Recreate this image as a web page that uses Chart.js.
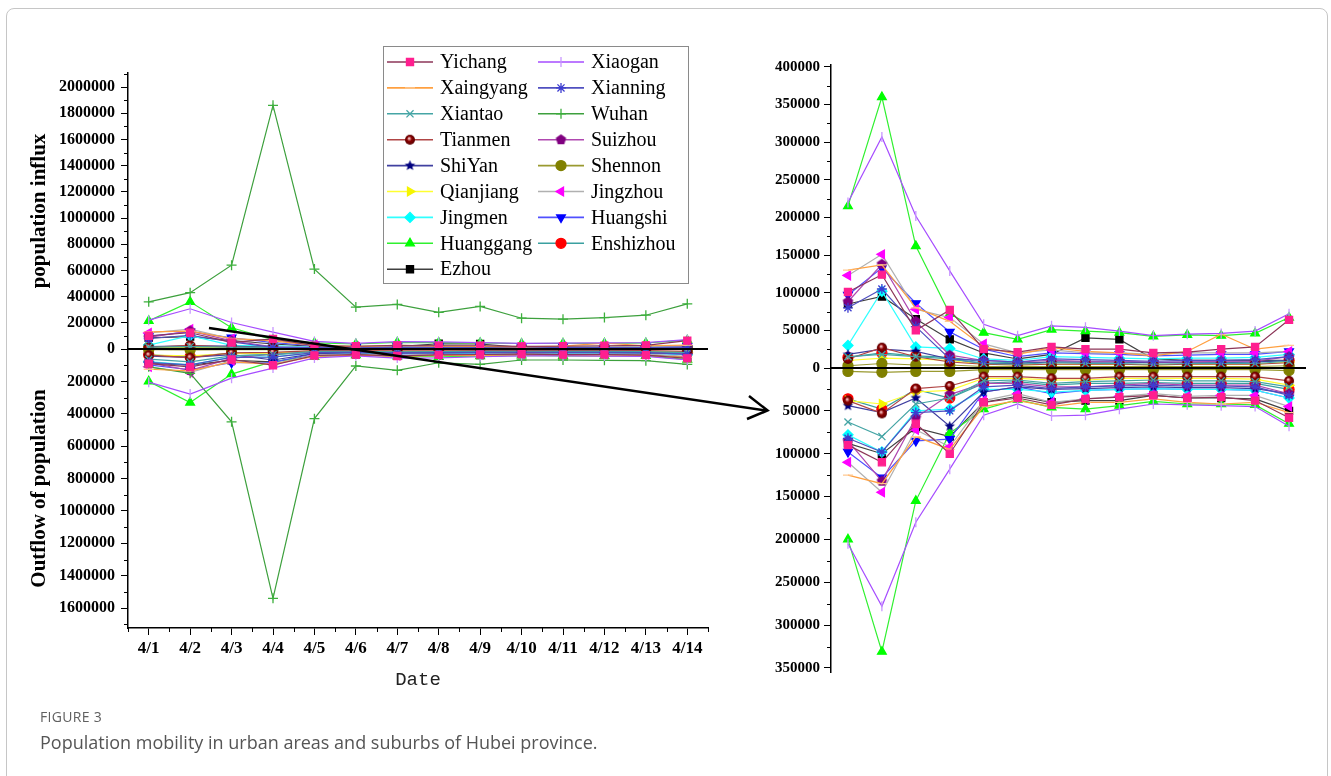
<!DOCTYPE html>
<html>
<head>
<meta charset="utf-8">
<title>Population mobility in Hubei</title>
<script src="https://cdn.jsdelivr.net/npm/chart.js@4.4.1/dist/chart.umd.min.js"></script>
<style>
  html, body { margin: 0; padding: 0; background: #fff; }
  body { width: 1331px; height: 776px; position: relative; overflow: hidden; }
  .frame { position: absolute; left: 6px; top: 8px; width: 1320px; height: 800px;
           border: 1px solid #c6c6c6; border-radius: 8px; }
  #flowAll { position: absolute; left: 0; top: 0; }
  #flowZoom { position: absolute; left: 730px; top: 0; }
  #arrow { position: absolute; left: 0; top: 0; pointer-events: none; }
  .cap-label { position: absolute; left: 40px; top: 707px; font: 14px "Open Sans", sans-serif;
               color: #606060; letter-spacing: 0.3px; }
  .cap-text { position: absolute; left: 40px; top: 730px; font: 18px "Open Sans", sans-serif; color: #555; }
</style>
</head>
<body>
<div class="frame"></div>
<canvas id="flowAll" width="730" height="700"></canvas>
<canvas id="flowZoom" width="600" height="700"></canvas>
<svg id="arrow" width="1331" height="776">
  <line x1="209" y1="328" x2="766" y2="410.5" stroke="#000" stroke-width="2.5"/>
  <polyline points="749,396 767.5,410.5 747,419" fill="none" stroke="#000" stroke-width="2.5"/>
</svg>
<div class="cap-label">FIGURE 3</div>
<div class="cap-text">Population mobility in urban areas and suburbs of Hubei province.</div>

<script>
const dates = ["4/1", "4/2", "4/3", "4/4", "4/5", "4/6", "4/7", "4/8", "4/9", "4/10", "4/11", "4/12", "4/13", "4/14"];

const cityNames = ["Yichang", "Xiaogan", "Xaingyang", "Xianning", "Xiantao", "Wuhan", "Tianmen", "Suizhou",
  "ShiYan", "Shennon", "Qianjiang", "Jingzhou", "Jingmen", "Huangshi", "Huanggang", "Enshizhou", "Ezhou"];

// people coming in / going out, per day (outflow kept positive, drawn downward)
const yichangIn = [101000, 124000, 50000, 77000, 25000, 21000, 28000, 25000, 25000, 20000, 21000, 25000, 28000, 64000];
const yichangOut = [90000, 110000, 65000, 100000, 40000, 35000, 43000, 36000, 34000, 32000, 35000, 34000, 38000, 58000];
const xiaoganIn = [220000, 307000, 202000, 129000, 58000, 43000, 56000, 54000, 49000, 43000, 45000, 46000, 49000, 72000];
const xiaoganOut = [205000, 278000, 180000, 118000, 55000, 42000, 56000, 55000, 48000, 42000, 43000, 44000, 45000, 68000];
const xaingyangIn = [130000, 137000, 80000, 62000, 28000, 18000, 27000, 22000, 20000, 16000, 22000, 45000, 25000, 30000];
const xaingyangOut = [125000, 135000, 80000, 95000, 45000, 38000, 45000, 40000, 40000, 36000, 40000, 42000, 40000, 52000];
const xianningIn = [80000, 105000, 55000, 12000, 10000, 8000, 12000, 11000, 10000, 9000, 10000, 10000, 11000, 15000];
const xianningOut = [82000, 98000, 52000, 50000, 22000, 20000, 24000, 22000, 21000, 20000, 21000, 21000, 22000, 32000];
const xiantaoIn = [15000, 18000, 15000, 12000, 6000, 5000, 7000, 6000, 6000, 5000, 6000, 6000, 6000, 9000];
const xiantaoOut = [63000, 80000, 42000, 35000, 15000, 14000, 18000, 16000, 15000, 14000, 15000, 15000, 16000, 22000];
const wuhanIn = [360000, 430000, 640000, 1860000, 610000, 320000, 340000, 280000, 325000, 235000, 228000, 240000, 258000, 345000];
const wuhanOut = [110000, 150000, 450000, 1540000, 430000, 105000, 132000, 85000, 95000, 68000, 68000, 70000, 72000, 95000];
const tianmenIn = [12000, 27000, 15000, 8000, 5000, 4000, 5000, 5000, 5000, 4000, 5000, 5000, 5000, 7000];
const tianmenOut = [38000, 53000, 24000, 21000, 10000, 10000, 12000, 12000, 10000, 10000, 10000, 10000, 10000, 15000];
const suizhouIn = [88000, 138000, 62000, 17000, 10000, 8000, 10000, 9000, 9000, 8000, 8000, 9000, 9000, 15000];
const suizhouOut = [85000, 132000, 58000, 31000, 18000, 18000, 22000, 22000, 20000, 18000, 20000, 20000, 20000, 30000];
const shiyanIn = [18000, 25000, 22000, 12000, 6000, 6000, 8000, 8000, 8000, 7000, 8000, 8000, 8000, 10000];
const shiyanOut = [44000, 52000, 35000, 68000, 28000, 22000, 25000, 24000, 23000, 22000, 23000, 23000, 24000, 30000];
const shennonIn = [3000, 6000, 4000, 4000, 2000, 2000, 2000, 2000, 2000, 2000, 2000, 2000, 2000, 3000];
const shennonOut = [4000, 5000, 4000, 4000, 2000, 2000, 2000, 2000, 2000, 2000, 2000, 2000, 2000, 3000];
const qianjiangIn = [10000, 13000, 12000, 10000, 5000, 4000, 5000, 5000, 5000, 4000, 5000, 5000, 5000, 8000];
const qianjiangOut = [38000, 42000, 28000, 26000, 12000, 12000, 14000, 14000, 12000, 12000, 12000, 12000, 13000, 20000];
const jingzhouIn = [123000, 151000, 78000, 67000, 32000, 20000, 24000, 20000, 20000, 18000, 20000, 20000, 20000, 22000];
const jingzhouOut = [110000, 145000, 72000, 92000, 38000, 30000, 40000, 36000, 33000, 30000, 33000, 32000, 32000, 45000];
const jingmenIn = [30000, 102000, 28000, 26000, 12000, 10000, 15000, 14000, 13000, 12000, 13000, 13000, 14000, 18000];
const jingmenOut = [78000, 98000, 50000, 48000, 25000, 25000, 28000, 26000, 25000, 24000, 25000, 25000, 26000, 35000];
const huangshiIn = [97000, 133000, 86000, 48000, 25000, 15000, 20000, 19000, 18000, 16000, 17000, 18000, 18000, 22000];
const huangshiOut = [98000, 128000, 85000, 83000, 28000, 22000, 30000, 26000, 25000, 24000, 25000, 25000, 26000, 35000];
const huanggangIn = [215000, 360000, 162000, 72000, 47000, 38000, 51000, 49000, 47000, 42000, 44000, 43000, 46000, 67000];
const huanggangOut = [200000, 331000, 155000, 76000, 48000, 37000, 46000, 48000, 44000, 39000, 42000, 42000, 43000, 65000];
const enshizhouIn = [14000, 20000, 16000, 14000, 8000, 7000, 8000, 8000, 8000, 7000, 7000, 7000, 8000, 10000];
const enshizhouOut = [36000, 48000, 25000, 35000, 18000, 16000, 20000, 18000, 18000, 17000, 18000, 18000, 18000, 25000];
const ezhouIn = [85000, 95000, 65000, 38000, 20000, 12000, 18000, 40000, 38000, 12000, 10000, 10000, 10000, 10000];
const ezhouOut = [88000, 100000, 70000, 80000, 40000, 33000, 40000, 38000, 38000, 32000, 35000, 35000, 36000, 50000];

const inflows = [yichangIn, xiaoganIn, xaingyangIn, xianningIn, xiantaoIn, wuhanIn, tianmenIn, suizhouIn,
  shiyanIn, shennonIn, qianjiangIn, jingzhouIn, jingmenIn, huangshiIn, huanggangIn, enshizhouIn, ezhouIn];
const outflows = [yichangOut, xiaoganOut, xaingyangOut, xianningOut, xiantaoOut, wuhanOut, tianmenOut, suizhouOut,
  shiyanOut, shennonOut, qianjiangOut, jingzhouOut, jingmenOut, huangshiOut, huanggangOut, enshizhouOut, ezhouOut];

// labelled ticks on the two panels
const allInTicks = [0, 200000, 400000, 600000, 800000, 1000000, 1200000, 1400000, 1600000, 1800000, 2000000];
const allOutTicks = [0, 200000, 400000, 600000, 800000, 1000000, 1200000, 1400000, 1600000];
const zoomInTicks = [0, 50000, 100000, 150000, 200000, 250000, 300000, 350000, 400000];
const zoomOutTicks = [0, 50000, 100000, 150000, 200000, 250000, 300000, 350000];

const serif = '"Liberation Serif", "Times New Roman", serif';
const R = 5;

// a few Origin-style markers Chart.js doesn't have
function polyMarker(kind, color, r) {
  const c = document.createElement("canvas");
  const s = Math.ceil(r * 2 + 2);
  c.width = s; c.height = s;
  const g = c.getContext("2d");
  g.fillStyle = color;
  g.beginPath();
  const n = kind === "pentagon" ? 5 : 10;
  for (let i = 0; i < n; i++) {
    const a = -Math.PI / 2 + i * 2 * Math.PI / n;
    const rr = kind === "star" && i % 2 ? r * 0.45 : r;
    g.lineTo(s / 2 + rr * Math.cos(a), s / 2 + rr * Math.sin(a));
  }
  g.closePath();
  g.fill();
  return c;
}

function sphereMarker(color, r) {
  const c = document.createElement("canvas");
  const s = Math.ceil(r * 2 + 2);
  c.width = s; c.height = s;
  const g = c.getContext("2d");
  const grad = g.createRadialGradient(s / 2 - 1, s / 2 - 1.5, 0.3, s / 2, s / 2, r);
  grad.addColorStop(0, "#ffd0d0");
  grad.addColorStop(0.45, color);
  grad.addColorStop(1, "#5a0000");
  g.fillStyle = grad;
  g.beginPath();
  g.arc(s / 2, s / 2, r, 0, Math.PI * 2);
  g.fill();
  return c;
}

const looks = [
  { line: "#8c3658", mark: "#ff1f8f", style: "rect" },
  { line: "#a64dff", mark: "#c896ff", style: "line", rot: 90 },
  { line: "#ffa040", mark: "#ffc890", style: "line" },
  { line: "#5050c0", mark: "#3c3cd0", style: "star" },
  { line: "#45a5a5", mark: "#45a5a5", style: "crossRot" },
  { line: "#3da03d", mark: "#3db03d", style: "cross" },
  { line: "#b04545", mark: "#8b0000", style: sphereMarker("#8b0000", R) },
  { line: "#b048b0", mark: "#800080", style: polyMarker("pentagon", "#800080", R + 0.5) },
  { line: "#4040a0", mark: "#00007f", style: polyMarker("star", "#00007f", R + 0.5) },
  { line: "#9a9a30", mark: "#808000", style: "circle" },
  { line: "#ffff30", mark: "#f5f500", style: "triangle", rot: 90 },
  { line: "#b0b0b0", mark: "#ff00ff", style: "triangle", rot: -90 },
  { line: "#30ffff", mark: "#00ffff", style: "rectRot" },
  { line: "#5050ff", mark: "#0000ff", style: "triangle", rot: 180 },
  { line: "#30f030", mark: "#00ff00", style: "triangle" },
  { line: "#3aa0a0", mark: "#ff0000", style: "circle" },
  { line: "#404040", mark: "#000000", style: "rect" },
];

function flowSets(skip) {
  const sets = [];
  cityNames.forEach((name, i) => {
    if (name === skip) return;
    const lk = looks[i];
    [["yIn", inflows[i]], ["yOut", outflows[i]]].forEach(([axis, data]) => {
      sets.push({
        label: name,
        data: data,
        yAxisID: axis,
        borderColor: lk.line,
        borderWidth: 1.2,
        pointStyle: lk.style,
        pointRotation: lk.rot || 0,
        pointRadius: R,
        pointHoverRadius: R,
        pointBackgroundColor: lk.mark,
        pointBorderColor: lk.mark,
        pointBorderWidth: 1.3,
        tension: 0,
        fill: false,
      });
    });
  });
  return sets;
}

function flowScales(o) {
  const tickFont = { family: serif, weight: "bold", size: o.tickSize };
  const vAxis = (extra) => Object.assign({
    type: "linear",
    position: "left",
    stack: "flow",
    min: 0,
    grid: { drawOnChartArea: false, tickLength: 7, color: "#000", tickWidth: 1 },
    border: { color: "#000", width: 1.5 },
    afterFit: (s) => { s.width = o.axisWidth; },
  }, extra);
  const titleFont = { family: serif, weight: "bold", size: 21 };
  const x = {
    type: "category",
    labels: dates,
    offset: true,
    display: o.showX,
    grid: { drawOnChartArea: false, offset: false, tickLength: 7, color: "#000" },
    border: { color: "#000", width: 1.5 },
    ticks: { color: "#000", font: { family: serif, weight: "bold", size: 17 }, padding: 3, maxRotation: 0, autoSkip: false },
    title: { display: true, text: "Date", color: "#222", font: { family: '"Liberation Mono", monospace', size: 19 }, padding: { top: 0, bottom: 0 } },
  };
  // only the full panel has a visible date axis
  if (o.showX) x.afterFit = (s) => { s.height = 63; };
  return {
    x: x,
    yOut: vAxis({
      reverse: true,
      max: o.outMax,
      stackWeight: o.outWeight,
      afterBuildTicks: (s) => { s.ticks = o.outTicks.map((v) => ({ value: v })); },
      ticks: { autoSkip: false, color: "#000", font: tickFont, padding: o.pad,
               callback: (v) => (v === 0 ? "" : String(v)) },
      title: { display: o.titles, text: "Outflow of population", color: "#000", font: titleFont, padding: { top: 4, bottom: 0 } },
    }),
    yIn: vAxis({
      max: o.inMax,
      stackWeight: o.inWeight,
      afterBuildTicks: (s) => { s.ticks = o.inTicks.map((v) => ({ value: v })); },
      ticks: { autoSkip: false, color: "#000", font: tickFont, padding: o.pad,
               callback: (v) => String(v) },
      title: { display: o.titles, text: "population influx", color: "#000", font: titleFont, padding: { top: 4, bottom: 0 } },
    }),
  };
}

// short ticks between the labelled ones
const minorTicks = {
  id: "minorTicks",
  afterDraw(chart, args, opts) {
    const ctx = chart.ctx;
    ctx.save();
    ctx.strokeStyle = "#000";
    ctx.lineWidth = 1;
    ["yIn", "yOut"].forEach((id) => {
      const s = chart.scales[id];
      for (let v = opts.yStep / 2; v < s.max; v += opts.yStep) {
        const y = Math.round(s.getPixelForValue(v)) + 0.5;
        ctx.beginPath();
        ctx.moveTo(s.right - 4, y);
        ctx.lineTo(s.right, y);
        ctx.stroke();
      }
    });
    if (opts.xMinor) {
      const x = chart.scales.x;
      const n = dates.length;
      for (let i = 0; i <= n; i++) {
        const px = Math.round(x.left + (i * x.width) / n) + 0.5;
        ctx.beginPath();
        ctx.moveTo(px, x.top);
        ctx.lineTo(px, x.top + 4);
        ctx.stroke();
      }
    }
    ctx.restore();
  },
};

const zeroLine = {
  id: "zeroLine",
  afterDatasetsDraw(chart) {
    const { ctx, chartArea } = chart;
    const y = chart.scales.yIn.getPixelForValue(0);
    ctx.save();
    ctx.strokeStyle = "#000";
    ctx.lineWidth = 2;
    ctx.beginPath();
    ctx.moveTo(chartArea.left, y);
    ctx.lineTo(chartArea.right, y);
    ctx.stroke();
    ctx.restore();
  },
};

// Origin-like boxed legend, two columns
const boxLegend = {
  id: "boxLegend",
  afterDraw(chart) {
    const ctx = chart.ctx;
    ctx.save();
    ctx.fillStyle = "#fff";
    ctx.fillRect(383, 46, 305, 237);
    ctx.strokeStyle = "#8a8a8a";
    ctx.lineWidth = 1;
    ctx.strokeRect(383.5, 46.5, 305, 237);
    cityNames.forEach((name, i) => {
      const lk = looks[i];
      const x0 = i % 2 ? 538 : 387;
      const y = 62 + Math.floor(i / 2) * 25.9;
      ctx.strokeStyle = lk.line;
      ctx.lineWidth = 1.6;
      ctx.beginPath();
      ctx.moveTo(x0, y);
      ctx.lineTo(x0 + 46, y);
      ctx.stroke();
      ctx.fillStyle = lk.mark;
      ctx.strokeStyle = lk.mark;
      ctx.lineWidth = 1.3;
      Chart.helpers.drawPoint(ctx, { pointStyle: lk.style, rotation: lk.rot || 0, radius: R, borderWidth: 1.3 }, x0 + 23, y);
      ctx.fillStyle = "#000";
      ctx.font = "20px " + serif;
      ctx.textBaseline = "middle";
      ctx.fillText(name, x0 + 53, y + 1);
    });
    ctx.restore();
  },
};

function makeChart(id, cfg) {
  const canvas = document.getElementById(id);
  if (!canvas) return null;
  return new Chart(canvas.getContext("2d"), {
    type: "line",
    data: { labels: dates, datasets: flowSets(cfg.skip) },
    options: {
      responsive: false,
      animation: false,
      events: [],
      layout: { padding: cfg.padding },
      plugins: {
        legend: { display: false },
        tooltip: { enabled: false },
        minorTicks: { yStep: cfg.scales.step, xMinor: cfg.scales.showX },
      },
      scales: flowScales(cfg.scales),
    },
    plugins: cfg.extra,
  });
}

// whole province, Wuhan included
makeChart("flowAll", {
  skip: null,
  padding: { top: 73, right: 22, bottom: 9, left: 23 },
  scales: { showX: true, titles: true, axisWidth: 105, tickSize: 16, pad: 6, step: 200000,
            inTicks: allInTicks, outTicks: allOutTicks,
            inMax: 2107000, outMax: 1723000, inWeight: 276, outWeight: 279 },
  extra: [minorTicks, zeroLine, boxLegend],
});

// zoom without Wuhan
makeChart("flowZoom", {
  skip: "Wuhan",
  padding: { top: 65, right: 24, bottom: 28, left: 0 },
  scales: { showX: false, titles: false, axisWidth: 101, tickSize: 15, pad: 4, step: 50000,
            inTicks: zoomInTicks, outTicks: zoomOutTicks,
            inMax: 402600, outMax: 354700, inWeight: 303, outWeight: 304 },
  extra: [minorTicks, zeroLine],
});
</script>
</body>
</html>
